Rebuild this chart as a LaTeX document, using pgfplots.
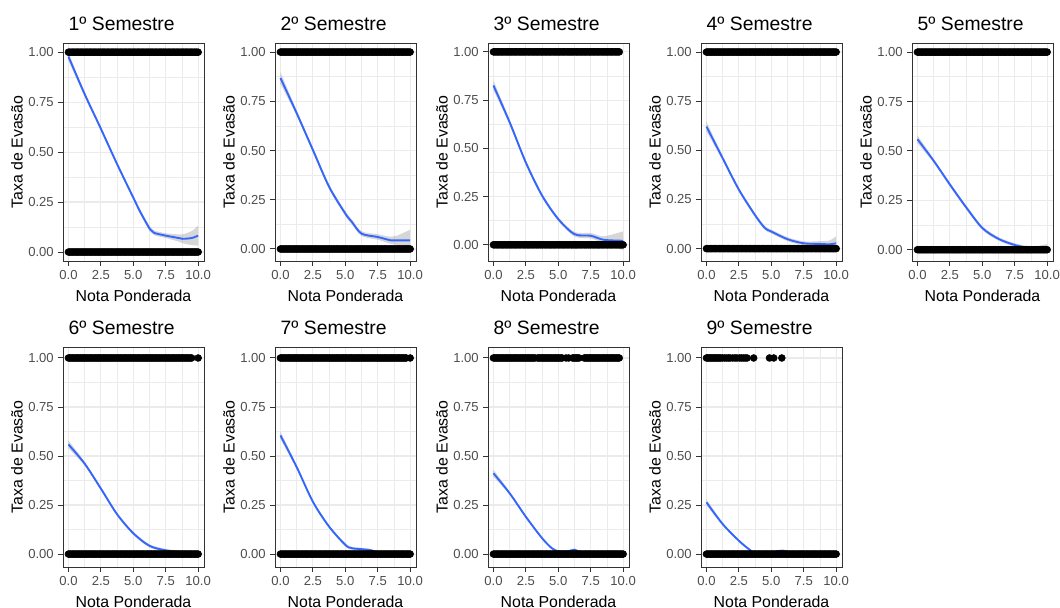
\documentclass[border=0pt]{standalone}
\usepackage{pgfplots}
\pgfplotsset{compat=1.18}
\usepackage{pgfplotstable}
\usepgfplotslibrary{fillbetween}
\usepackage{fontspec}
\setmainfont{Liberation Sans}
\definecolor{smoothblue}{HTML}{3366FF}
\definecolor{gridgray}{HTML}{EBEBEB}
\definecolor{framegray}{HTML}{333333}
\definecolor{ticktext}{HTML}{4D4D4D}
\definecolor{bandgray}{HTML}{999999}

% dense observations at 0 and 1
\pgfplotstableread{
x zero one
0.0 0 1
0.1 0 1
0.2 0 1
0.3 0 1
0.4 0 1
0.5 0 1
0.6 0 1
0.7 0 1
0.8 0 1
0.9 0 1
1.0 0 1
1.1 0 1
1.2 0 1
1.3 0 1
1.4 0 1
1.5 0 1
1.6 0 1
1.7 0 1
1.8 0 1
1.9 0 1
2.0 0 1
2.1 0 1
2.2 0 1
2.3 0 1
2.4 0 1
2.5 0 1
2.6 0 1
2.7 0 1
2.8 0 1
2.9 0 1
3.0 0 1
3.1 0 1
3.2 0 1
3.3 0 1
3.4 0 1
3.5 0 1
3.6 0 1
3.7 0 1
3.8 0 1
3.9 0 1
4.0 0 1
4.1 0 1
4.2 0 1
4.3 0 1
4.4 0 1
4.5 0 1
4.6 0 1
4.7 0 1
4.8 0 1
4.9 0 1
5.0 0 1
5.1 0 1
5.2 0 1
5.3 0 1
5.4 0 1
5.5 0 1
5.6 0 1
5.7 0 1
5.8 0 1
5.9 0 1
6.0 0 1
6.1 0 1
6.2 0 1
6.3 0 1
6.4 0 1
6.5 0 1
6.6 0 1
6.7 0 1
6.8 0 1
6.9 0 1
7.0 0 1
7.1 0 1
7.2 0 1
7.3 0 1
7.4 0 1
7.5 0 1
7.6 0 1
7.7 0 1
7.8 0 1
7.9 0 1
8.0 0 1
8.1 0 1
8.2 0 1
8.3 0 1
8.4 0 1
8.5 0 1
8.6 0 1
8.7 0 1
8.8 0 1
8.9 0 1
9.0 0 1
9.1 0 1
9.2 0 1
9.3 0 1
9.4 0 1
9.5 0 1
9.6 0 1
9.7 0 1
9.8 0 1
9.9 0 1
10.0 0 1
}\obs

\pgfplotstableread{
x y lo hi
0 0.978 0.958 0.998
1.25 0.79 0.778 0.802
2.5 0.617 0.607 0.627
3.75 0.44 0.43 0.45
5 0.272 0.262 0.282
5.5 0.205 0.193 0.217
6 0.146 0.134 0.158
6.3 0.113 0.101 0.125
6.6 0.096 0.084 0.108
7.5 0.082 0.07 0.094
8.5 0.07 0.052 0.088
8.8 0.066 0.044 0.088
9.5 0.07 0.035 0.105
10 0.082 0.032 0.132
}\pA
\pgfplotstableread{
x y lo hi
0 0.868 0.838 0.898
1.25 0.69 0.676 0.704
2.5 0.503 0.49 0.516
3.75 0.316 0.304 0.328
5 0.18 0.168 0.192
5.5 0.138 0.126 0.15
6.25 0.078 0.066 0.09
7.5 0.061 0.047 0.075
8.5 0.044 0.026 0.062
9 0.044 0.02 0.068
10 0.044 -0.01 0.098
}\pB
\pgfplotstableread{
x y lo hi
0 0.826 0.801 0.851
1.25 0.635 0.621 0.649
2.5 0.426 0.414 0.438
3.75 0.255 0.245 0.265
5 0.133 0.123 0.143
6.25 0.055 0.043 0.067
7.5 0.047 0.033 0.061
8.5 0.026 0.008 0.044
10 0.021 -0.028 0.07
}\pC
\pgfplotstableread{
x y lo hi
0 0.621 0.596 0.646
1.25 0.46 0.448 0.472
2.5 0.30 0.29 0.31
3.75 0.17 0.16 0.18
4.5 0.105 0.095 0.115
5 0.087 0.077 0.097
6.25 0.048 0.038 0.058
7.5 0.027 0.017 0.037
8.75 0.024 0.01 0.038
9.5 0.022 0.002 0.042
10 0.027 -0.009 0.063
}\pD
\pgfplotstableread{
x y lo hi
0 0.559 0.539 0.579
1.25 0.45 0.44 0.46
2.5 0.33 0.32 0.34
3.75 0.215 0.205 0.225
5 0.11 0.1 0.12
6.25 0.055 0.046 0.064
7.5 0.024 0.015 0.033
8.5 0.01 0.001 0.019
9 0.007 -0.002 0.016
10 0.012 -0.005 0.029
}\pE
\pgfplotstableread{
x y lo hi
0 0.559 0.539 0.579
1.25 0.461 0.451 0.471
2.5 0.334 0.326 0.342
3.75 0.203 0.195 0.211
5 0.106 0.098 0.114
6.25 0.042 0.034 0.05
7.5 0.019 0.012 0.026
8.75 0.01 0.003 0.017
10 0.005 -0.005 0.015
}\pF
\pgfplotstableread{
x y lo hi
0 0.605 0.585 0.625
1.25 0.444 0.434 0.454
2.5 0.267 0.259 0.275
3.75 0.14 0.132 0.148
5 0.047 0.039 0.055
5.5 0.03 0.023 0.037
6.25 0.025 0.018 0.032
7 0.019 0.012 0.026
7.5 0.008 0.002 0.014
8.75 0.005 -0.001 0.011
10 0.005 -0.003 0.013
}\pG
\pgfplotstableread{
x y lo hi
0 0.412 0.394 0.43
1.25 0.31 0.302 0.318
2.5 0.19 0.183 0.197
3.75 0.081 0.075 0.087
4.5 0.03 0.024 0.036
5 0.014 0.008 0.02
5.75 0.014 0.008 0.02
6.25 0.022 0.015 0.029
6.75 0.008 0.002 0.014
7.5 0.005 0.0 0.01
8.75 0.005 0.0 0.01
10 0.0 -0.006 0.006
}\pH
\pgfplotstableread{
x y lo hi
0 0.264 0.248 0.28
1.25 0.153 0.146 0.16
2.5 0.068 0.062 0.074
3.25 0.026 0.02 0.032
3.75 0.003 -0.002 0.008
4.5 -0.004 -0.009 0.001
5 0.004 -0.001 0.009
5.5 0.015 0.009 0.021
6 0.016 0.01 0.022
6.5 0.006 0.001 0.011
7.5 0.003 -0.001 0.007
10 0.003 -0.002 0.008
}\pI

\pgfplotsset{
  panel/.style={
    scale only axis, width=105.75pt,
    xmin=-0.42, xmax=10.45,
    xtick={0,2.5,5,7.5,10}, xticklabels={0.0,2.5,5.0,7.5,10.0},
    ytick={0,0.25,0.5,0.75,1}, yticklabels={0.00,0.25,0.50,0.75,1.00},
    minor x tick num=1, minor y tick num=1,
    grid=both, tick pos=left,
    major grid style={draw=gridgray, line width=0.85pt},
    minor grid style={draw=gridgray, line width=0.45pt},
    axis line style={draw=framegray, line width=0.75pt},
    tick align=outside, major tick length=3.4pt, minor tick length=0pt,
    major tick style={draw=framegray, line width=0.75pt},
    tick label style={font=\fontsize{9.8}{11}\selectfont, text=ticktext},
    xlabel={Nota Ponderada}, ylabel={Taxa de Evasão},
    label style={font=\fontsize{11.9}{14}\selectfont},
    xlabel style={at={(axis description cs:0.5,-0.16)}, anchor=center},
    ylabel style={at={(axis description cs:-0.326,0.5)}, anchor=center},
    title style={at={(axis description cs:0,1)}, anchor=base west, yshift=3.4pt, xshift=0.75pt, font=\fontsize{14.5}{17}\selectfont},
    anchor=north west,
  },
  row1/.style={height=163.5pt, ymax=1.046},
  row2/.style={height=165pt, ymin=-0.066, ymax=1.056},
  pts/.style={only marks, mark=*, mark size=2.6pt, draw=black, fill=black},
  smline/.style={smooth, smoothblue, line width=1.4pt},
}

\newcommand\smoothband[1]{%
  \addplot[name path=hi, draw=none, smooth] table[x=x,y=hi]{#1};
  \addplot[name path=lo, draw=none, smooth] table[x=x,y=lo]{#1};
  \addplot[bandgray, opacity=0.4, draw=none] fill between[of=hi and lo];
  \addplot[smline] table[x=x,y=y]{#1};
}

\begin{document}
\begin{tikzpicture}

% ---- row 1 ----
\begin{axis}[panel, row1, at={(47.25pt,-32.25pt)}, ymin=-0.045, title={1º Semestre}]
\addplot[pts] table[x=x,y=one]{\obs};
\addplot[pts] table[x=x,y=zero]{\obs};
\smoothband{\pA}
\end{axis}

\begin{axis}[panel, row1, at={(206.25pt,-32.25pt)}, ymin=-0.061, title={2º Semestre}]
\addplot[pts] table[x=x,y=one]{\obs};
\addplot[pts] table[x=x,y=zero]{\obs};
\smoothband{\pB}
\end{axis}

\begin{axis}[panel, row1, at={(366pt,-32.25pt)}, ymin=-0.084, title={3º Semestre}]
\addplot[pts, restrict x to domain=0:9.75] table[x=x,y=one]{\obs};
\addplot[pts] table[x=x,y=zero]{\obs};
\smoothband{\pC}
\end{axis}

\begin{axis}[panel, row1, at={(525.75pt,-32.25pt)}, ymin=-0.063, title={4º Semestre}]
\addplot[pts] table[x=x,y=one]{\obs};
\addplot[pts] table[x=x,y=zero]{\obs};
\smoothband{\pD}
\end{axis}

\begin{axis}[panel, row1, at={(684pt,-32.25pt)}, ymin=-0.057, title={5º Semestre}]
\addplot[pts] table[x=x,y=one]{\obs};
\addplot[pts] table[x=x,y=zero]{\obs};
\smoothband{\pE}
\end{axis}

% ---- row 2 ----
\begin{axis}[panel, row2, at={(47.25pt,-260.25pt)}, title={6º Semestre}]
\addplot[pts, restrict x to domain=0:9.5] table[x=x,y=one]{\obs};
\addplot[pts] coordinates {(10,1)};
\addplot[pts] table[x=x,y=zero]{\obs};
\smoothband{\pF}
\end{axis}

\begin{axis}[panel, row2, at={(206.25pt,-260.25pt)}, title={7º Semestre}]
\addplot[pts, restrict x to domain=0:9.7] table[x=x,y=one]{\obs};
\addplot[pts] coordinates {(10,1)};
\addplot[pts] table[x=x,y=zero]{\obs};
\smoothband{\pG}
\end{axis}

\begin{axis}[panel, row2, at={(366pt,-260.25pt)}, title={8º Semestre}]
\addplot[pts, restrict x to domain=0:3.2] table[x=x,y=one]{\obs};
\addplot[pts, restrict x to domain=3.4:5.3] table[x=x,y=one]{\obs};
\addplot[pts] coordinates {(5.6,1)(5.8,1)};
\addplot[pts, restrict x to domain=6.1:6.6] table[x=x,y=one]{\obs};
\addplot[pts, restrict x to domain=7.0:9.7] table[x=x,y=one]{\obs};
\addplot[pts] table[x=x,y=zero]{\obs};
\smoothband{\pH}
\end{axis}

\begin{axis}[panel, row2, at={(525.75pt,-260.25pt)}, title={9º Semestre}]
\addplot[pts, restrict x to domain=0:1.1] table[x=x,y=one]{\obs};
\addplot[pts] coordinates {
(1.24,1)(1.4,1)(1.55,1)(1.7,1)(1.82,1)(2.02,1)(2.2,1)(2.35,1)(2.55,1)(2.7,1)
(2.85,1)(3.0,1)(3.13,1)(3.64,1)(4.86,1)(5.19,1)(5.81,1)};
\addplot[pts] table[x=x,y=zero]{\obs};
\smoothband{\pI}
\end{axis}

\pgfresetboundingbox
\path[use as bounding box] (0,0) rectangle (795pt,-455.25pt);
\end{tikzpicture}
\end{document}
